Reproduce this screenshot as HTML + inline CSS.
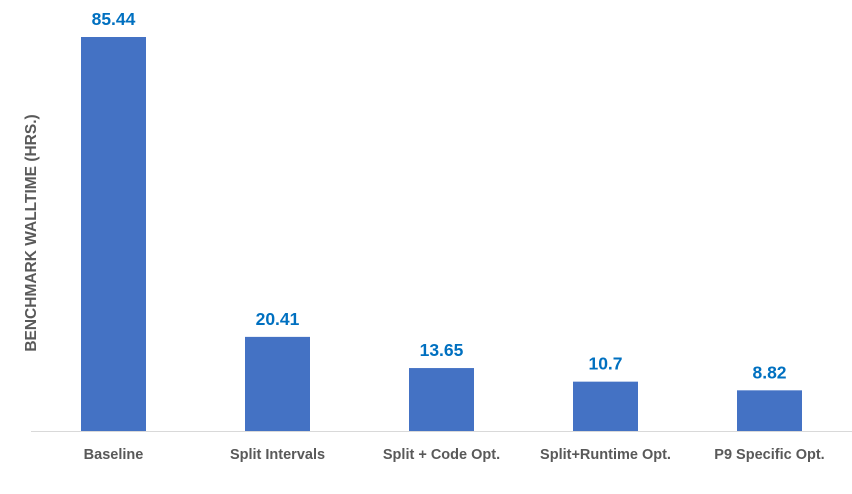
<!DOCTYPE html>
<html><head><meta charset="utf-8"><style>
html,body{margin:0;padding:0;background:#fff;}
svg text{font-family:"Liberation Sans",sans-serif;font-weight:bold;}
</style></head><body>
<svg id="chart" width="852" height="489" viewBox="0 0 852 489">
<text x="0" y="0" transform="translate(36,233) rotate(-90)" text-anchor="middle" font-size="15.5" fill="#595959">BENCHMARK WALLTIME (HRS.)</text>
<line x1="31" y1="431.5" x2="852" y2="431.5" stroke="#d9d9d9" stroke-width="1"/>
<g id="bars"></g>
</svg>
<script>
const categories = ["Baseline","Split Intervals","Split + Code Opt.","Split+Runtime Opt.","P9 Specific Opt."];
const values = [85.44,20.41,13.65,10.7,8.82];
const valueLabels = ["85.44","20.41","13.65","10.7","8.82"];
const x0 = 31.5, band = 164, barW = 65, yBase = 431, pxPerUnit = 394/85.44;
function xScale(i){ return x0 + band*i + band/2; }
function yScale(v){ return yBase - v*pxPerUnit; }
const g = document.getElementById('bars');
const NS = "http://www.w3.org/2000/svg";
categories.forEach((c,i)=>{
  const cx = xScale(i), y = yScale(values[i]);
  const r = document.createElementNS(NS,'rect');
  r.setAttribute('x', cx-barW/2); r.setAttribute('y', y);
  r.setAttribute('width', barW); r.setAttribute('height', yBase-y);
  r.setAttribute('fill', '#4472c4');
  
  
  g.appendChild(r);
  const t = document.createElementNS(NS,'text');
  t.setAttribute('x', cx); t.setAttribute('y', y-12);
  t.setAttribute('text-anchor','middle'); t.setAttribute('font-size','17.5'); t.setAttribute('fill','#0070c0');
  t.textContent = valueLabels[i];
  
  
  g.appendChild(t);
  const l = document.createElementNS(NS,'text');
  l.setAttribute('x', cx); l.setAttribute('y', 459);
  l.setAttribute('text-anchor','middle'); l.setAttribute('font-size','14.5'); l.setAttribute('fill','#595959');
  l.textContent = c;
  
  
  g.appendChild(l);
});
</script>
</body></html>
